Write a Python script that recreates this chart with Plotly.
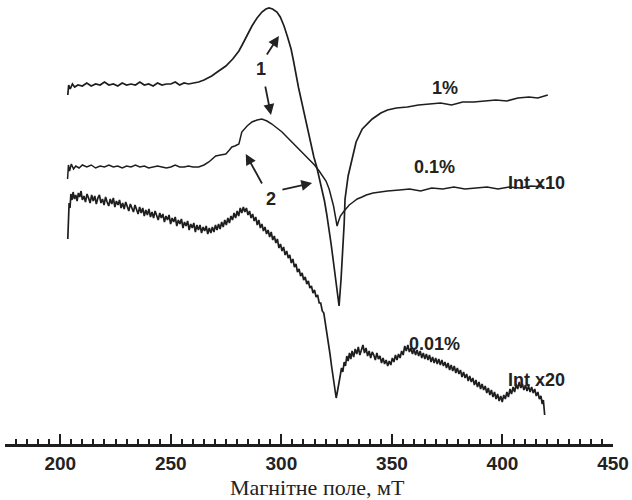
import plotly.graph_objects as go

# Magnetic field (mT) and signal (arbitrary units, vertically offset) for each sample
field_1 = [203.4,203.8,204.5,205.5,206.5,208,210,212,214,216,218,220,222,224,226,228,230,232,234,236,238,240,242,244,246,248,250,252,254,256,258,260,262.6,265,268.5,271,274.9,278,280.8,282.5,284.5,286.7,289,291.2,293,294.4,296,298,299.5,301.2,302.8,304.4,305.5,306.6,307.8,308.9,310,311.2,312.3,313.4,314.7,316,317.2,318.4,319.5,320.5,321.5,322.5,323.5,324.5,325.3,326.1,327.0,327.9,328.4,328.8,330.2,332.0,333.8,336.6,341.1,345,348,352,357,362,367,372,377,382,387,392,397,402,407,412,416,420.5]
signal_1 = [349,359,355,360,357,359,358,361,358,360,359,362,359,360,358,361,359,360,359,362,359,360,358,361,359,360,360,362,359,361,360,361,362,364,368,372,378,385,393,400,409,418,426,432,435,436,435,432,427,418,407,395,383,368,356,345,334,322,310,298,287,277,266,255,243,230,216,200,183,165,151,138,165,195,220,245,268,285,302,315,325,331,334,336,337,339,340,341,339,342,342,343,344,343,346,347,346,349]

field_01 = [203.3,203.7,204.2,205,206,207,208.5,210,212,214,216,218,220,222,224,226,228,230,232,234,236,238,240,242,244,246,248,250,252,254,256,258,260,262.6,265,267.2,269,270.3,272.5,274.9,276.5,277.6,279,280.8,282.1,284.5,286.7,289,291.2,293.5,295.7,298,300.3,303.4,306.6,309.5,312.5,315,317.1,319,320.2,321.6,322.7,323.6,324.4,325.2,325.9,326.7,328.4,330.7,332.5,334.3,336.5,338.4,341.5,344.3,348,353.4,358,363,368,373,378,383,388,393,398,403,408,413,419]
signal_01 = [265,279,273,280,275,278,276,279,277,279,276,278,277,279,277,278,276,278,277,279,277,278,276,277,278,277,276,277,279,277,277,278,277,277,279,282,286,288,289,290,294,297,298,300,312,318,322,324,325,323,320,316,312,305,298,292,285,279,273,267,263,255,247,238,228,218,223,228,233,239,242,245,247,249,251,252,253,254,255,253,256,255,257,255,256,257,255,257,256,258,257,258]

field_001 = [203.4,203.7,204.0,204.4,204.8,205.3,205.8,206.4,207.0,207.6,208.2,208.8,209.4,210.0,210.7,211.4,212.1,212.8,213.5,214.2,214.9,215.6,216.3,217.0,217.7,218.4,219.1,219.8,220.5,221.2,221.9,222.6,223.3,224.0,224.7,225.4,226.1,226.8,227.5,228.2,228.9,229.6,230.3,231.0,231.7,232.4,233.1,233.8,234.5,235.2,235.9,236.6,237.3,238.0,238.7,239.4,240.1,240.8,241.5,242.2,242.9,243.6,244.3,245.0,245.7,246.4,247.1,247.8,248.5,249.2,249.9,250.6,251.3,252.0,252.7,253.4,254.1,254.8,255.5,256.2,256.9,257.6,258.3,259.0,259.7,260.4,261.1,261.8,262.5,263.2,263.9,264.6,265.3,266.0,266.7,267.4,268.1,268.8,269.5,270.2,270.9,271.6,272.3,273.0,273.7,274.4,275.1,275.8,276.5,277.2,277.9,278.6,279.3,280.0,280.7,281.4,282.1,282.8,283.5,284.2,284.9,285.6,286.3,287.0,287.7,288.4,289.1,289.8,290.5,291.2,291.9,292.6,293.3,294.0,294.7,295.4,296.1,296.8,297.5,298.2,298.9,299.6,300.3,301.0,301.7,302.4,303.1,303.8,304.5,305.2,305.9,306.6,307.3,308.0,308.7,309.4,310.1,310.8,311.5,312.2,312.9,313.6,314.3,315.0,315.7,316.4,317.1,317.8,318.5,319.2,319.9,320.6,321.3,322.0,322.7,323.4,324.1,324.8,325.4,326.0,326.6,327.2,327.8,328.4,329.0,329.6,330.2,330.8,331.4,332.0,332.7,333.4,334.1,334.8,335.5,336.2,336.9,337.6,338.3,339.0,339.7,340.4,341.1,341.8,342.5,343.2,343.9,344.6,345.3,346.0,346.7,347.4,348.1,348.8,349.5,350.2,350.9,351.6,352.3,353.0,353.7,354.4,355.1,355.8,356.5,357.2,357.9,358.6,359.3,360.0,360.7,361.4,362.1,362.8,363.5,364.2,364.9,365.6,366.3,367.0,367.7,368.4,369.1,369.8,370.5,371.2,371.9,372.6,373.3,374.0,374.7,375.4,376.1,376.8,377.5,378.2,378.9,379.6,380.3,381.0,381.7,382.4,383.1,383.8,384.5,385.2,385.9,386.6,387.3,388.0,388.7,389.4,390.1,390.8,391.5,392.2,392.9,393.6,394.3,395.0,395.7,396.4,397.1,397.8,398.5,399.2,399.9,400.6,401.3,402.0,402.7,403.4,404.1,404.8,405.5,406.2,406.9,407.6,408.3,409.0,409.7,410.4,411.1,411.8,412.5,413.2,413.9,414.6,415.3,416.0,416.7,417.4,418.0,418.5,418.9,419.1]
signal_001 = [205,225,241,236,250,244,252,245,249,243,251,247,253,244,248,242,250,246,241,249,243,248,240,246,249,241,245,239,247,242,238,245,240,246,237,243,239,244,236,241,235,242,238,233,240,236,232,239,234,230,237,231,236,228,234,229,235,227,232,226,233,229,224,231,226,230,222,228,224,229,220,226,222,227,218,224,220,225,216,222,218,223,214,220,216,221,212,219,214,219,211,217,213,218,210,216,211,217,212,219,214,220,215,222,217,224,219,226,221,228,224,231,226,233,228,236,231,237,232,236,229,233,226,230,223,227,219,224,216,220,213,217,210,214,207,212,204,208,201,205,196,200,193,197,189,193,186,189,181,185,177,180,172,175,168,171,164,167,160,163,156,158,151,154,147,149,141,141,133,131,121,114,100,90,78,66,55,46,53,63,68,76,72,82,78,88,83,91,85,93,87,95,90,97,89,94,99,91,96,88,93,86,92,89,84,91,85,88,81,86,80,84,78,83,79,86,82,89,84,90,86,93,89,98,93,99,92,96,90,95,89,94,88,93,86,91,85,90,84,89,82,87,81,86,80,85,79,84,78,82,76,81,74,79,73,78,71,76,70,74,67,72,66,70,63,68,62,66,59,64,57,62,55,60,54,58,51,56,49,54,47,52,45,50,43,48,42,49,45,52,47,55,50,57,52,60,55,62,56,60,54,59,53,58,52,57,51,55,48,52,45,48,40,44,34,29]

tick_vals = [200, 250, 300, 350, 400, 450]
tick_text = ["200", "250", "300", "350", "400", "450"]
x_title = "Магнітне поле, мТ"

line_color = "#1e1e1e"
fig = go.Figure()
for fx, sy, w in [(field_1, signal_1, 1.7), (field_01, signal_01, 1.5), (field_001, signal_001, 1.7)]:
    fig.add_trace(go.Scatter(x=fx, y=sy, mode="lines", line=dict(color=line_color, width=w),
                             hoverinfo="skip", showlegend=False))

lab_font = dict(family="Liberation Sans", size=18, color="#222222", weight="bold")
labels = [("1%", 374.2, 356), ("0.1%", 369.2, 277), ("Int x10", 415.5, 261),
          ("0.01%", 369.2, 100), ("Int x20", 415.5, 64), ("1", 290.7, 375), ("2", 295.3, 245)]
for t, x, y in labels:
    fig.add_annotation(x=x, y=y, text=t, showarrow=False, font=lab_font)

arrows = [(298.9, 408, 293.0, 388), (295.3, 329, 292.6, 359),
          (283.9, 290, 291.6, 259), (313.9, 261, 299.8, 254)]
for hx, hy, tx, ty in arrows:
    fig.add_annotation(x=hx, y=hy, ax=tx, ay=ty, axref="x", ayref="y", xref="x", yref="y",
                       text="", showarrow=True, arrowhead=2, arrowsize=1.2, arrowwidth=1.8,
                       arrowcolor="#222222")

# axis title placed as an annotation below the tick labels
fig.add_annotation(x=316.5, xref="x", y=-0.097, yref="paper", yanchor="middle",
                   text=x_title, showarrow=False,
                   font=dict(family="Liberation Serif", size=22, color="#222222"))

fig.update_layout(
    width=632, height=500,
    margin=dict(l=5, r=19, t=0, b=56, autoexpand=False),
    paper_bgcolor="white", plot_bgcolor="white",
    xaxis=dict(range=[175, 450], showgrid=False, zeroline=False, automargin=False,
               showline=True, linecolor="#1e1e1e", linewidth=2.5,
               ticks="inside", ticklen=10, tickwidth=2, tickcolor="#1e1e1e",
               tickvals=tick_vals, ticktext=tick_text,
               tickfont=dict(family="Liberation Sans", size=19, color="#222222", weight="bold"),
               minor=dict(ticks="inside", ticklen=5, tickwidth=1.5, tickcolor="#1e1e1e", dtick=5, showgrid=False)),
    yaxis=dict(range=[0, 444], visible=False, showgrid=False, zeroline=False),
)

fig.write_html("out.html", config={"displayModeBar": False},
               post_script="document.body.style.margin='0px';")
